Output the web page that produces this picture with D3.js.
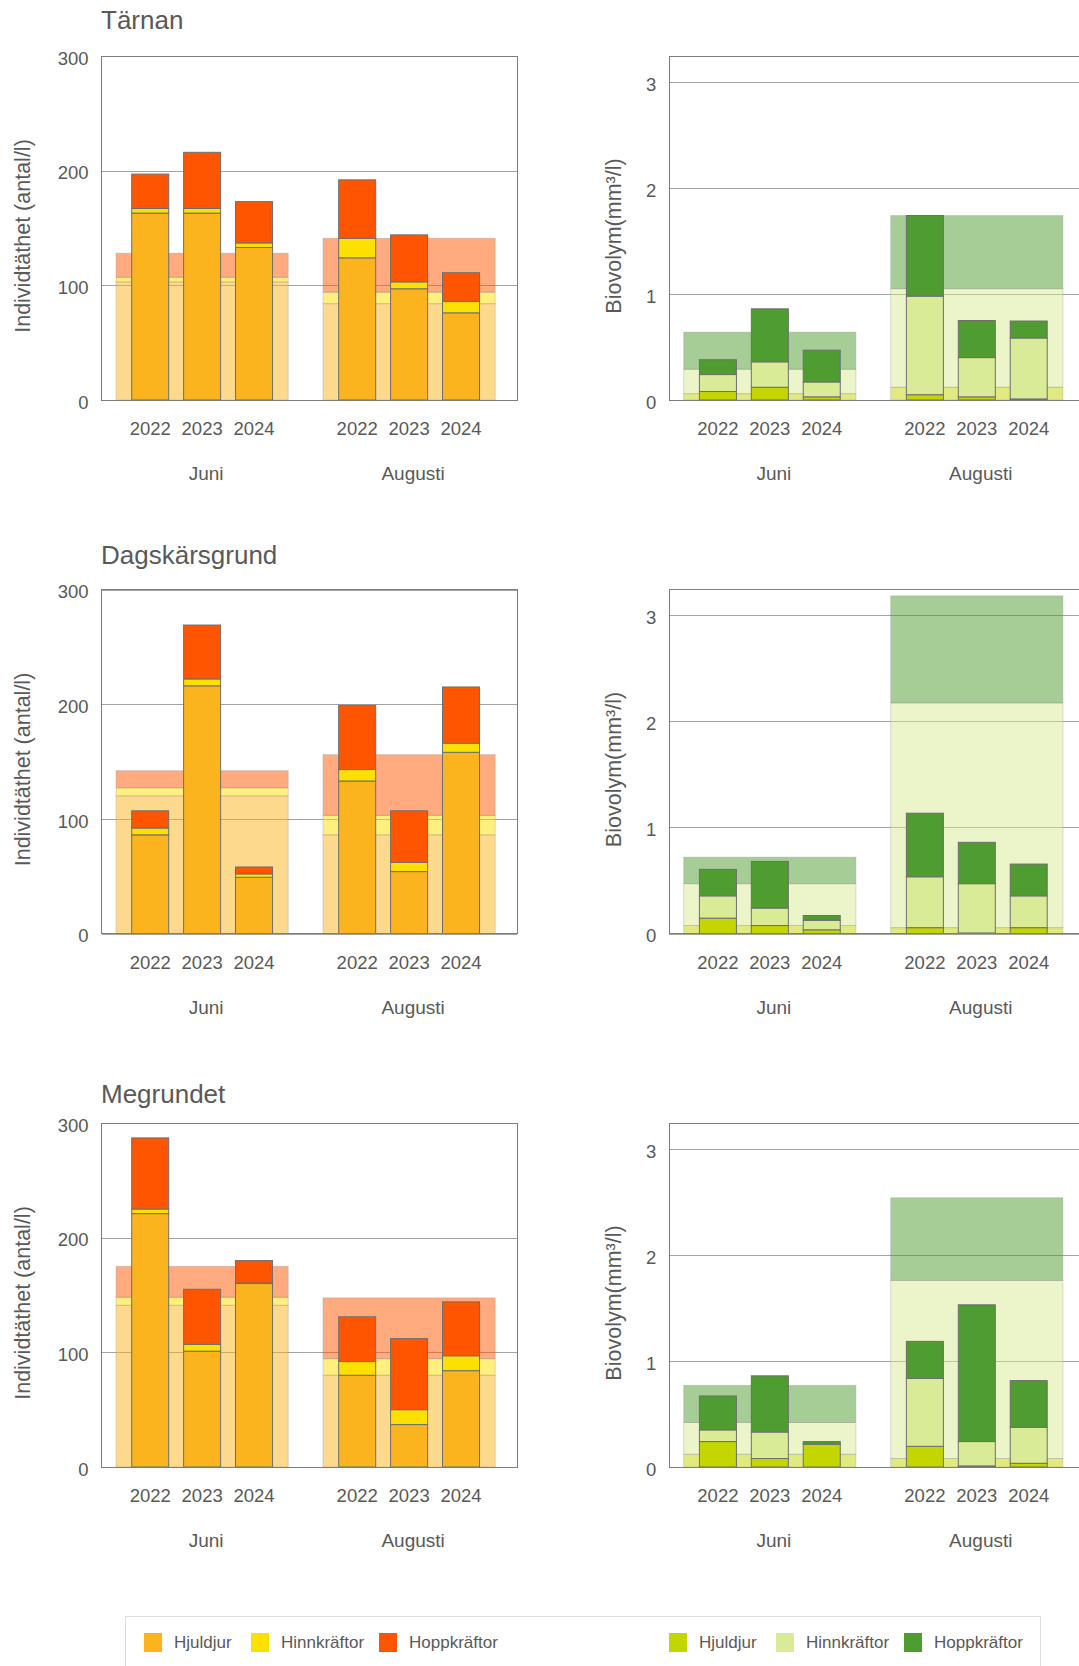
<!DOCTYPE html>
<html>
<head>
<meta charset="utf-8">
<script src="https://cdn.jsdelivr.net/npm/d3@7"></script>
<style>
  html, body { margin: 0; padding: 0; background: #fff; }
  svg { display: block; font-family: "Liberation Sans", Arial, sans-serif; }
  text { fill: #595959; }
</style>
</head>
<body>
<svg id="chart" width="1079" height="1666"></svg>
<script>
// Zooplankton groups, sampling months and years
const groups = ["Hjuldjur", "Hinnkräftor", "Hoppkräftor"];
const months = ["Juni", "Augusti"];
const years = ["2022", "2023", "2024"];
const stations = ["Tärnan", "Dagskärsgrund", "Megrundet"];

// Tick labels for the two value axes
const antalTicks = [0, 100, 200, 300];
const bioTicks = [0, 1, 2, 3];

// Individtäthet (antal/l): month, year, Hjuldjur, Hinnkräftor, Hoppkräftor
const tarnanAntal = [
  ["Juni", "2022", 163, 4, 30],
  ["Juni", "2023", 163, 4, 49],
  ["Juni", "2024", 133, 4, 36],
  ["Augusti", "2022", 124, 17, 51],
  ["Augusti", "2023", 97, 6, 41],
  ["Augusti", "2024", 76, 10, 25]
];
const dagskarAntal = [
  ["Juni", "2022", 86, 6, 15],
  ["Juni", "2023", 216, 6, 47],
  ["Juni", "2024", 49, 3, 6],
  ["Augusti", "2022", 133, 10, 56],
  ["Augusti", "2023", 54, 8, 45],
  ["Augusti", "2024", 158, 8, 49]
];
const megrundetAntal = [
  ["Juni", "2022", 221, 4, 62],
  ["Juni", "2023", 101, 6, 48],
  ["Juni", "2024", 160, 0.5, 19.5],
  ["Augusti", "2022", 80, 12, 39],
  ["Augusti", "2023", 37, 13, 62],
  ["Augusti", "2024", 84, 13, 47]
];

// Reference levels per month (antal/l): month, Hjuldjur, Hinnkräftor, Hoppkräftor
const tarnanAntalRef = [["Juni", 103, 4, 21], ["Augusti", 84, 10, 47]];
const dagskarAntalRef = [["Juni", 120, 7, 15], ["Augusti", 86, 17, 53]];
const megrundetAntalRef = [["Juni", 141, 7, 27], ["Augusti", 80, 14.5, 53]];

// Biovolym (mm³/l): month, year, Hjuldjur, Hinnkräftor, Hoppkräftor
const tarnanBio = [
  ["Juni", "2022", 0.08, 0.16, 0.14],
  ["Juni", "2023", 0.12, 0.24, 0.50],
  ["Juni", "2024", 0.03, 0.14, 0.30],
  ["Augusti", "2022", 0.05, 0.93, 0.76],
  ["Augusti", "2023", 0.03, 0.37, 0.35],
  ["Augusti", "2024", 0.01, 0.575, 0.16]
];
const dagskarBio = [
  ["Juni", "2022", 0.145, 0.21, 0.25],
  ["Juni", "2023", 0.075, 0.165, 0.44],
  ["Juni", "2024", 0.035, 0.09, 0.045],
  ["Augusti", "2022", 0.055, 0.48, 0.60],
  ["Augusti", "2023", 0.005, 0.465, 0.39],
  ["Augusti", "2024", 0.055, 0.30, 0.30]
];
const megrundetBio = [
  ["Juni", "2022", 0.24, 0.11, 0.32],
  ["Juni", "2023", 0.08, 0.25, 0.53],
  ["Juni", "2024", 0.215, 0.003, 0.022],
  ["Augusti", "2022", 0.195, 0.64, 0.35],
  ["Augusti", "2023", 0.01, 0.23, 1.29],
  ["Augusti", "2024", 0.035, 0.34, 0.44]
];

// Reference levels per month (mm³/l)
const tarnanBioRef = [["Juni", 0.06, 0.23, 0.35], ["Augusti", 0.12, 0.93, 0.69]];
const dagskarBioRef = [["Juni", 0.075, 0.395, 0.25], ["Augusti", 0.055, 2.12, 1.01]];
const megrundetBioRef = [["Juni", 0.12, 0.30, 0.35], ["Augusti", 0.08, 1.68, 0.78]];

const antalColors = ["#fbb41e", "#fde000", "#ff5500"];
const bioColors = ["#c4d600", "#d9eb96", "#4f9c30"];

// ---- layout ----
const panelTops = [56, 589.5, 1123];
const titleGaps = [27, 26, 20];
const plotH = 344;
const plotW = 415.6;
const leftX = 101.6, rightX = 669.3;

const svg = d3.select("#chart");
svg.append("rect").attr("width", 1079).attr("height", 1666).attr("fill", "#fff");

const toRows = arr => arr.map(r => ({ month: r[0], year: r[1], v: r.slice(2) }));
const toRefs = arr => arr.map(r => ({ month: r[0], v: r.slice(1) }));
const stack = d3.stack().keys([0, 1, 2]).value((d, k) => d.v[k]);

function drawPanel(opts) {
  const { x0, top, yMax, ticks, rows, refs, colors, yTitle, titleX } = opts;
  const bottom = top + plotH;
  const frameRight = x0 + plotW;
  const g = svg.append("g");

  const y = d3.scaleLinear().domain([0, yMax]).range([bottom, top]);
  const xm = d3.scaleBand().domain(months).range([x0, frameRight])
    .paddingInner(0.168).paddingOuter(0.088).align(0.396);
  const xy = d3.scaleBand().domain(years).range([0, xm.bandwidth()])
    .paddingInner(0.287).paddingOuter(0.302);

  // value axis with gridlines across the plot
  const yAxis = g.append("g")
    .attr("transform", `translate(${x0},0)`)
    .call(d3.axisLeft(y).tickValues(ticks).tickFormat(d3.format("d"))
      .tickSizeInner(-plotW).tickSizeOuter(0).tickPadding(13));
  yAxis.select(".domain").remove();
  yAxis.selectAll(".tick line").attr("stroke", "#a3a3a3").attr("shape-rendering", "crispEdges");
  yAxis.selectAll(".tick text")
    .attr("font-size", 18.5).attr("fill", "#595959").attr("dy", "0.45em")
    .attr("font-family", "Liberation Sans, Arial, sans-serif");

  // reference bands (stacked, half transparent)
  const refSeries = stack(toRefs(refs));
  g.append("g").selectAll("g").data(refSeries).join("g")
    .attr("fill", (d, i) => colors[i]).attr("fill-opacity", 0.5)
    .selectAll("rect").data(d => d).join("rect")
    .attr("x", d => xm(d.data.month))
    .attr("width", xm.bandwidth())
    .attr("y", d => y(d[1]))
    .attr("height", d => y(d[0]) - y(d[1]))
    .attr("stroke", "#8a8a8a").attr("stroke-opacity", 0.3).attr("stroke-width", 1);

  // stacked bars per year
  const barSeries = stack(toRows(rows));
  g.append("g").selectAll("g").data(barSeries).join("g")
    .attr("fill", (d, i) => colors[i])
    .selectAll("rect").data(d => d).join("rect")
    .attr("x", d => xm(d.data.month) + xy(d.data.year))
    .attr("width", xy.bandwidth())
    .attr("y", d => y(d[1]))
    .attr("height", d => y(d[0]) - y(d[1]))
    .attr("stroke", "#6e6e6e").attr("stroke-width", 1);

  // plot frame
  g.append("rect")
    .attr("x", x0).attr("y", top)
    .attr("width", plotW).attr("height", plotH)
    .attr("fill", "none").attr("stroke", "#7d7d7d").attr("stroke-width", 1)
    .attr("shape-rendering", "crispEdges");

  // year labels under each month group
  months.forEach(m => {
    const ax = g.append("g")
      .attr("transform", `translate(${xm(m)},${bottom})`)
      .call(d3.axisBottom(xy).tickSize(0).tickPadding(22));
    ax.select(".domain").remove();
    ax.selectAll(".tick text").attr("font-size", 18.5).attr("fill", "#595959")
      .attr("font-family", "Liberation Sans, Arial, sans-serif");
  });

  // month labels
  g.append("g").selectAll("text").data(months).join("text")
    .attr("x", d => xm(d) + xm.bandwidth() / 2 + 4)
    .attr("y", bottom + 80)
    .attr("text-anchor", "middle")
    .attr("font-size", 19)
    .text(d => d);

  // value axis title
  g.append("text")
    .attr("transform", `translate(${titleX},${top + 180}) rotate(-90)`)
    .attr("text-anchor", "middle")
    .attr("dy", "0.35em")
    .attr("font-size", 21.5)
    .text(yTitle);
}

const antalSets = [tarnanAntal, dagskarAntal, megrundetAntal];
const antalRefSets = [tarnanAntalRef, dagskarAntalRef, megrundetAntalRef];
const bioSets = [tarnanBio, dagskarBio, megrundetBio];
const bioRefSets = [tarnanBioRef, dagskarBioRef, megrundetBioRef];

stations.forEach((name, i) => {
  const top = panelTops[i];
  svg.append("text")
    .attr("x", 101).attr("y", top - titleGaps[i])
    .attr("font-size", 26)
    .text(name);

  drawPanel({
    x0: leftX, top, yMax: 300, ticks: antalTicks,
    rows: antalSets[i], refs: antalRefSets[i], colors: antalColors,
    yTitle: "Individtäthet (antal/l)", titleX: 22.5
  });
  drawPanel({
    x0: rightX, top, yMax: 3.245, ticks: bioTicks,
    rows: bioSets[i], refs: bioRefSets[i], colors: bioColors,
    yTitle: "Biovolym(mm³/l)", titleX: 613
  });
});

// legend
const legend = svg.append("g");
legend.append("rect")
  .attr("x", 125.5).attr("y", 1616.5).attr("width", 915).attr("height", 80)
  .attr("fill", "#fff").attr("stroke", "#dedede");

const legendSwatchX = [[144, 251, 379], [669, 776, 904]];
[antalColors, bioColors].forEach((cols, s) => {
  groups.forEach((gname, k) => {
    const lx = legendSwatchX[s][k];
    legend.append("rect")
      .attr("x", lx).attr("y", 1633).attr("width", 18).attr("height", 19)
      .attr("fill", cols[k]);
    legend.append("text")
      .attr("x", lx + 30).attr("y", 1642.5).attr("dy", "0.35em")
      .attr("font-size", 17)
      .text(gname);
  });
});
</script>
</body>
</html>
